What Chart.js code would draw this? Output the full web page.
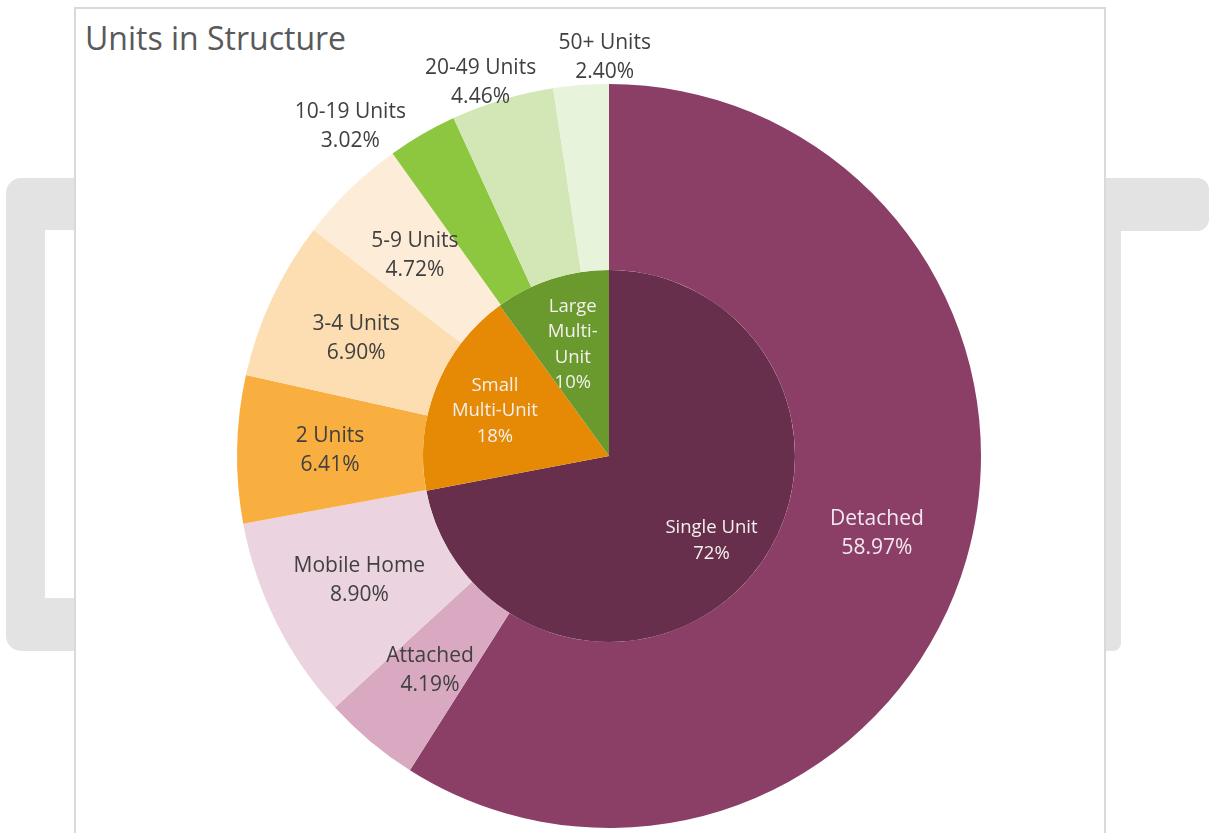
<!DOCTYPE html>
<html lang="en">
  <head>
    <meta charset="UTF-8" />
    <title>Units in Structure</title>
    <style>
      html, body { margin: 0; padding: 0; width: 1210px; height: 833px; overflow: hidden; background: #fff; font-family: "Open Sans", sans-serif; }
      /* grey bracket frame sitting behind the chart card */
      .frame { position: absolute; background: #e3e3e3; }
      .frame-left { left: 6px; top: 178px; width: 1115px; height: 473px; border-radius: 15px 15px 8px 15px; }
      .frame-hole { position: absolute; left: 45px; top: 230px; width: 1059px; height: 368px; background: #fff; }
      .frame-right { left: 1104px; top: 178px; width: 105px; height: 53px; border-radius: 0 12px 12px 0; }
      .card { position: absolute; left: 74px; top: 7px; width: 1028px; height: 840px; background: #fff; border: 2px solid #d9d9d9; }
      .title { position: absolute; left: 9px; top: 7px; font-size: 32px; color: #595959; }
      #wrap { position: absolute; left: 0; top: 0; width: 1210px; height: 833px; }
    </style>
  </head>
  <body>
    <div class="frame frame-left"></div>
    <div class="frame-hole"></div>
    <div class="frame frame-right"></div>
    <div class="card"><div class="title">Units in Structure</div></div>
    <div id="wrap"><canvas id="pie"></canvas></div>

    <script src="https://cdn.jsdelivr.net/npm/chart.js"></script>
    <script>
      // outer ring: structure types
      const typeLabels = ["Detached", "Attached", "Mobile Home", "2 Units", "3-4 Units", "5-9 Units", "10-19 Units", "20-49 Units", "50+ Units"];
      const typeValues = [58.97, 4.19, 8.90, 6.41, 6.90, 4.72, 3.02, 4.46, 2.40];
      const typeColors = ["#8b3f67", "#d8a9c0", "#ebd3e0", "#f9ae40", "#fddeb3", "#fdedd8", "#8dc63f", "#d3e7b6", "#e8f3db"];

      // inner pie: groups
      const groupLabels = [["Single Unit"], ["Small", "Multi-Unit"], ["Large", "Multi-", "Unit"]];
      const groupValues = [72, 18, 10];
      const groupColors = ["#682f4c", "#e68a06", "#6a9a2e"];

      // label placement tweaks: radius factor (of the ring's outer edge) and angle nudge in degrees
      const outerPlace = { 6: [1.126, -8], 7: [1.062, -2.3], 8: [1.07, 3.7] };
      const innerRadiusFactor = [0.715, 0.66, 0.63];

      const sliceLabels = {
        id: "sliceLabels",
        afterDatasetsDraw(chart) {
          const ctx = chart.ctx;
          ctx.save();
          ctx.textAlign = "center";
          ctx.textBaseline = "middle";

          chart.getDatasetMeta(0).data.forEach((arc, i) => {
            const p = arc.getProps(["x", "y", "startAngle", "endAngle", "innerRadius", "outerRadius"]);
            let a = (p.startAngle + p.endAngle) / 2;
            let r = (p.innerRadius + p.outerRadius) / 2;
            if (outerPlace[i]) {
              r = p.outerRadius * outerPlace[i][0];
              a += outerPlace[i][1] * Math.PI / 180;
            }
            const lines = [typeLabels[i], typeValues[i].toFixed(2) + "%"];
            ctx.font = "21px 'Open Sans'";
            ctx.fillStyle = i === 0 ? "#f2e8ee" : "#404040";
            const cx = p.x + Math.cos(a) * r, cy = p.y + Math.sin(a) * r;
            lines.forEach((t, k) => ctx.fillText(t, cx, cy + (k - (lines.length - 1) / 2) * 29));
          });

          chart.getDatasetMeta(1).data.forEach((arc, i) => {
            const p = arc.getProps(["x", "y", "startAngle", "endAngle", "outerRadius"]);
            const a = (p.startAngle + p.endAngle) / 2;
            const r = p.outerRadius * innerRadiusFactor[i];
            const lines = groupLabels[i].concat([groupValues[i] + "%"]);
            ctx.font = "18.5px 'Open Sans'";
            ctx.fillStyle = "#f4f0ee";
            const cx = p.x + Math.cos(a) * r, cy = p.y + Math.sin(a) * r;
            lines.forEach((t, k) => ctx.fillText(t, cx, cy + (k - (lines.length - 1) / 2) * 25.5));
          });
          ctx.restore();
        }
      };

      new Chart(document.getElementById("pie"), {
        type: "doughnut",
        data: {
          labels: typeLabels,
          datasets: [
            { data: typeValues, backgroundColor: typeColors, borderWidth: 0 },
            { data: groupValues, backgroundColor: groupColors, borderWidth: 0 }
          ]
        },
        options: {
          responsive: true,
          maintainAspectRatio: false,
          animation: false,
          cutout: 0,
          layout: { padding: { left: 237, right: 229, top: 84, bottom: 5 } },
          plugins: { legend: { display: false }, tooltip: { enabled: false } }
        },
        plugins: [sliceLabels]
      });
    </script>
  </body>
</html>
